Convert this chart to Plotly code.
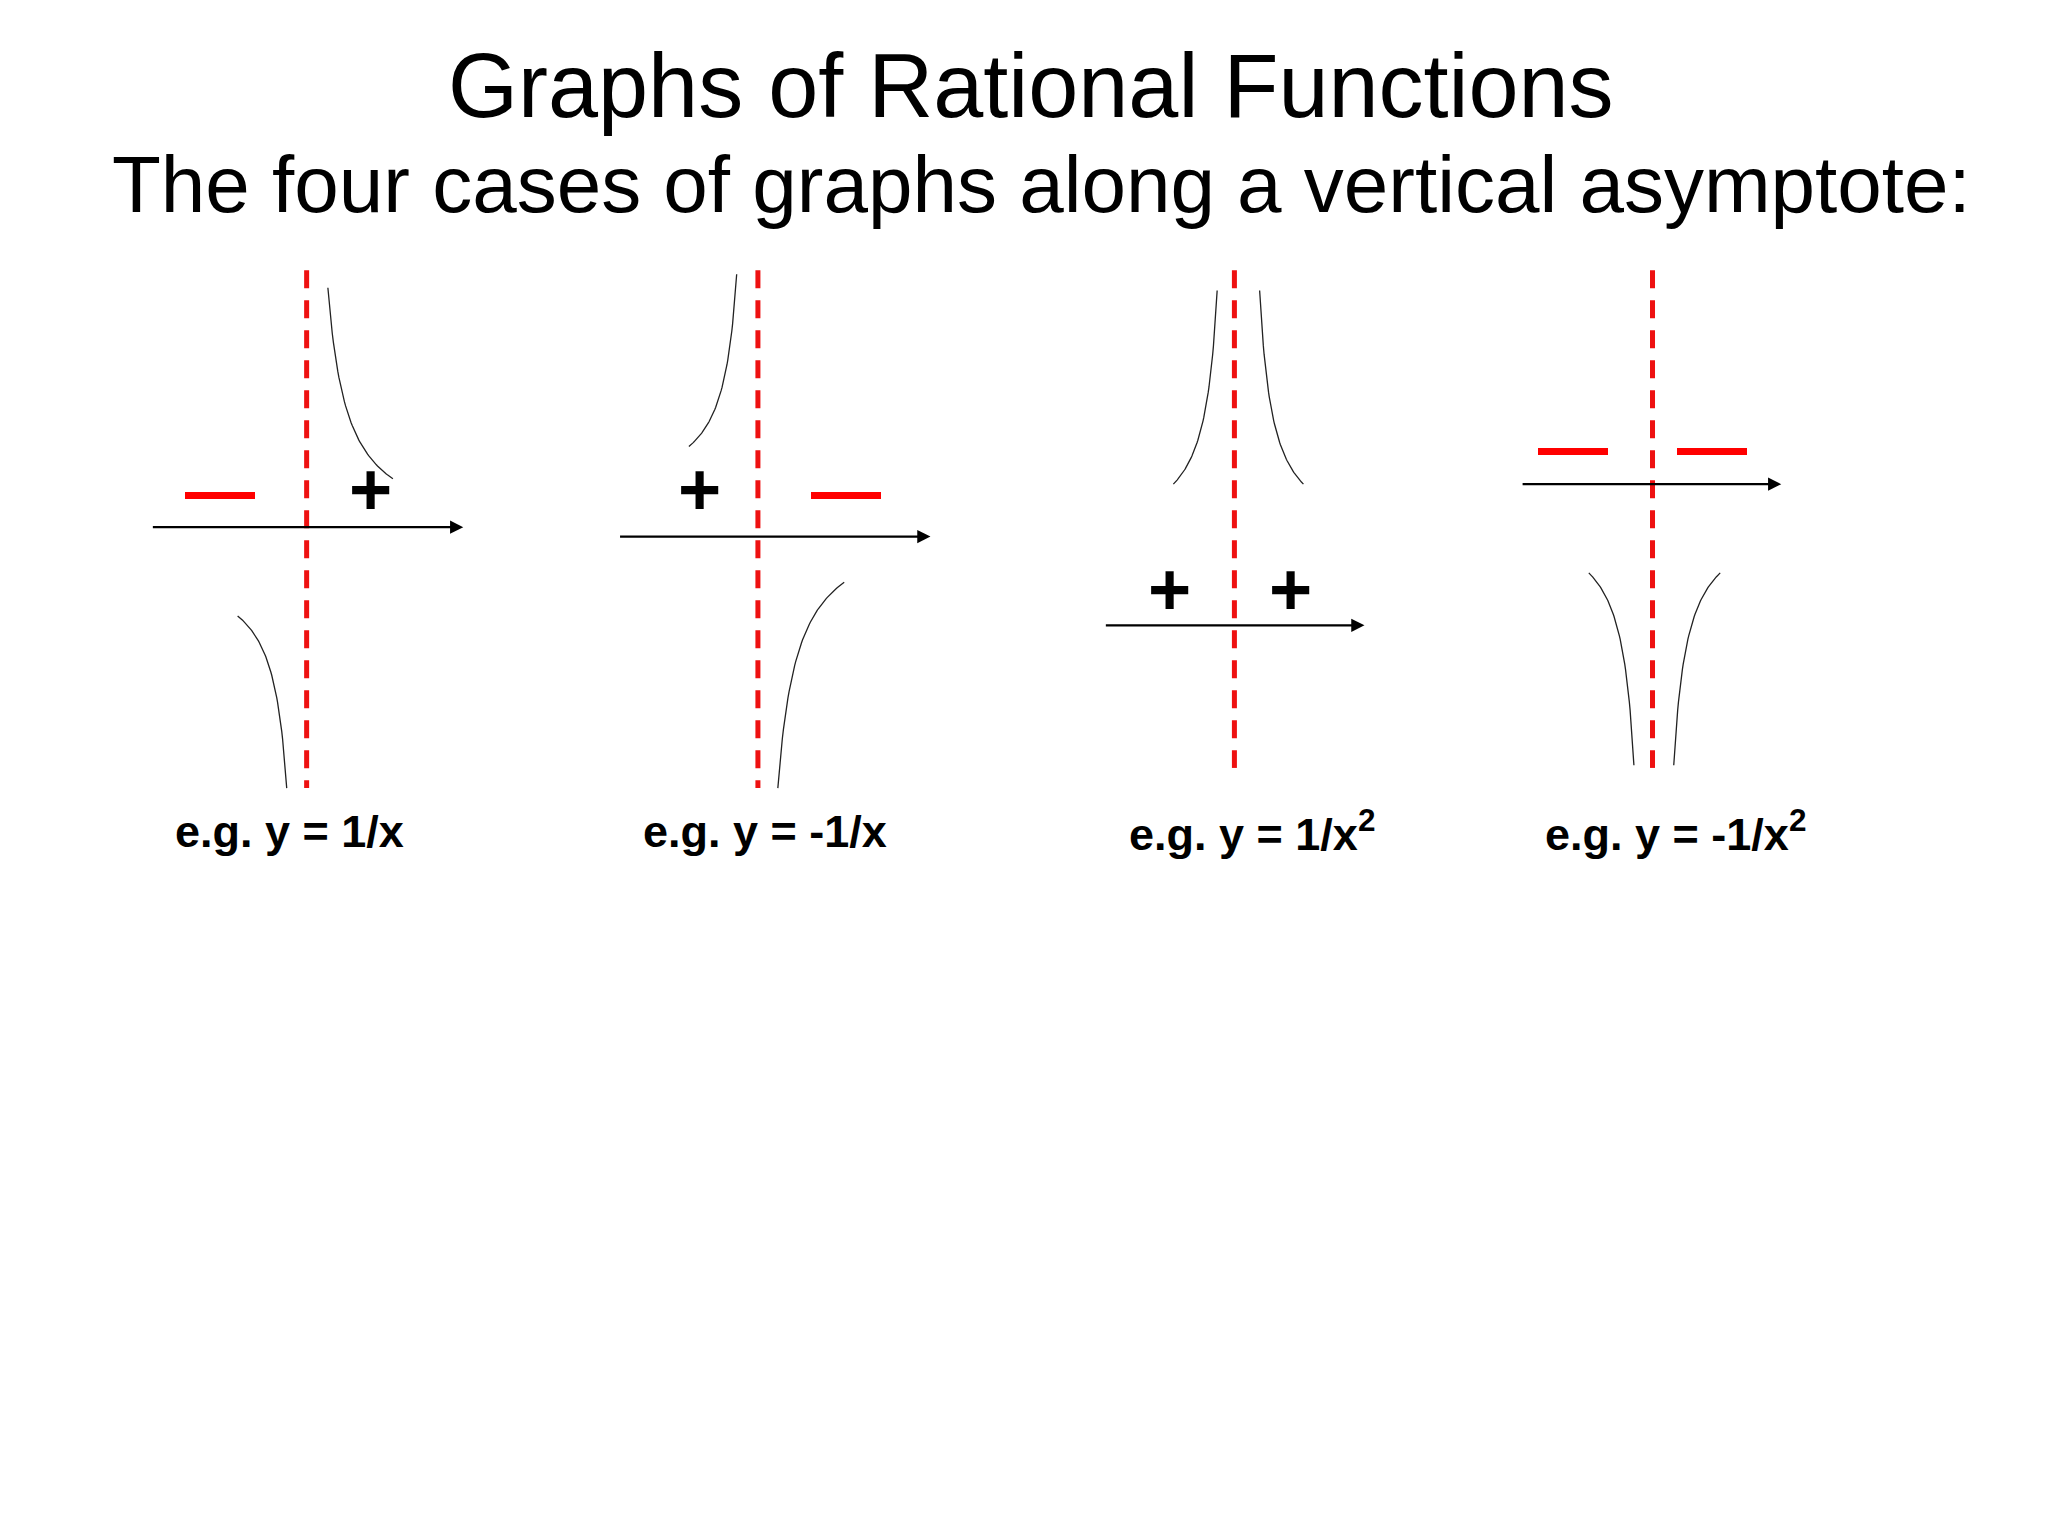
import numpy as np
import plotly.graph_objects as go

# coordinates (slide units, y down)
asym_x = [222, 562, 921, 1236]
asym_top = [195, 195, 195, 195]
asym_bottom = [580, 580, 565, 565]
axis_y = [386, 393, 459, 354]
axis_x0 = [105, 457, 823, 1137]
axis_x1 = [340, 692, 1019, 1333]
# each branch: point next to the asymptote, then the far end
branches = [
    [(238, 208), (287, 350)], [(207, 580), (170, 452)],
    [(546, 198), (510, 326)], [(577, 580), (627, 427)],
    [(908, 210), (875, 354)], [(940, 210), (973, 354)],
    [(1222, 563), (1188, 420)], [(1252, 563), (1287, 420)],
]
signs = [("—", 157, 358, "red"), ("+", 270, 358, "black"),
         ("+", 518, 358, "black"), ("—", 628, 358, "red"),
         ("+", 872, 432, "black"), ("+", 963, 432, "black"),
         ("—", 1176, 326, "red"), ("—", 1281, 326, "red")]
labels = ["e.g. y = 1/x", "e.g. y = -1/x", "e.g. y = 1/x<sup>2</sup>", "e.g. y = -1/x<sup>2</sup>"]
label_x = [209, 567, 934, 1253]
label_y = 612


def branch_points(a, b, k=0.3):
    # hyperbola-like bend from the asymptote end a to the far end b
    t = np.linspace(0, 1, 60)
    f = k / (t + k)
    f = (f - f[-1]) / (f[0] - f[-1])
    x = b[0] + (a[0] - b[0]) * (1 - t)
    y = b[1] + (a[1] - b[1]) * f
    return x, y


fig = go.Figure()
for xa, yt, yb in zip(asym_x, asym_top, asym_bottom):
    fig.add_trace(go.Scatter(x=[xa, xa], y=[yt, yb], mode="lines",
                             line=dict(color="#ee1111", width=5, dash="18px,12px")))
for a, b in branches:
    bx, by = branch_points(a, b)
    fig.add_trace(go.Scatter(x=bx, y=by, mode="lines", line=dict(color="#222", width=1.3)))

for ay, x0, x1 in zip(axis_y, axis_x0, axis_x1):
    fig.add_annotation(x=x1, y=ay, ax=x0, ay=ay, xref="x", yref="y", axref="x", ayref="y",
                       text="", showarrow=True, arrowhead=2, arrowsize=1.2, arrowwidth=2.2,
                       arrowcolor="black")
for s, sx, sy, c in signs:
    fig.add_annotation(x=sx, y=sy, text=f"<b>{s}</b>", showarrow=False,
                       font=dict(size=74 if s == "+" else 70, color=c))
for t, lx in zip(labels, label_x):
    fig.add_annotation(x=lx, y=label_y, text=f"<b>{t}</b>", showarrow=False,
                       font=dict(size=45, color="black"))

fig.add_annotation(x=768, y=58, text="Graphs of Rational Functions", showarrow=False,
                   font=dict(size=90, color="black"))
fig.add_annotation(x=776, y=131, text="The four cases of graphs along a vertical asymptote:",
                   showarrow=False, font=dict(size=80, color="black"))

fig.update_layout(width=2048, height=1536, margin=dict(l=0, r=0, t=0, b=0),
                  paper_bgcolor="white", plot_bgcolor="white", showlegend=False,
                  font=dict(family="Liberation Sans, Arial, sans-serif"))
fig.update_xaxes(range=[-3, 1540], visible=False)
fig.update_yaxes(range=[1142, 0], visible=False)
fig.write_html("out.html")
